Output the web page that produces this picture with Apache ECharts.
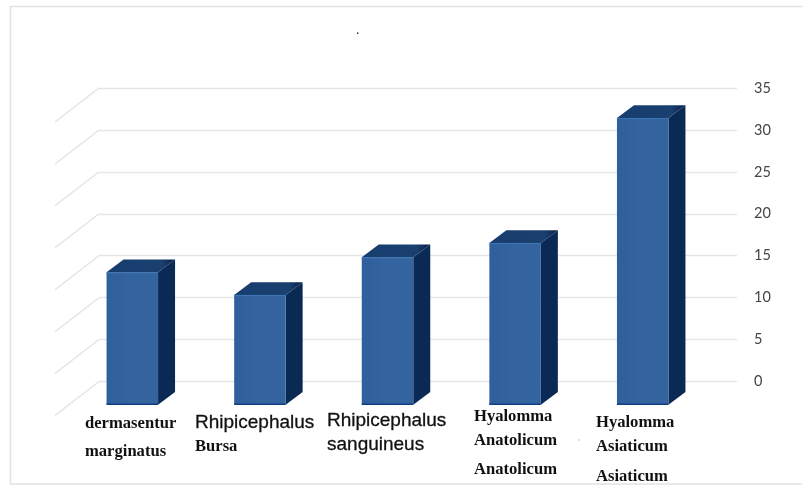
<!DOCTYPE html>
<html>
<head>
<meta charset="utf-8">
<style>html,body{margin:0;padding:0;background:#fff}#chart{width:802px;height:486px}</style>
<script src="https://cdn.jsdelivr.net/npm/echarts@6/dist/echarts.min.js"></script>
</head>
<body>
<div id="chart"></div>
<script>
// Tick species share, drawn as pseudo-3D columns standing on a receding floor.
const categories = [
  'dermasentur marginatus',
  'Rhipicephalus Bursa',
  'Rhipicephalus sanguineus',
  'Hyalomma Anatolicum Anatolicum',
  'Hyalomma Asiaticum Asiaticum'
];
const values = [15.8, 13.1, 17.6, 19.3, 34.2];
const tickValues = [0, 5, 10, 15, 20, 25, 30, 35];

// Category label lines, each with its own face.
const SERIF = 'bold 16.6px "Liberation Serif"';
const SANS = '19px "Liberation Sans"';
const labelLines = [
  [['dermasentur', SERIF, 424], ['marginatus', SERIF, 452]],
  [['Rhipicephalus', SANS, 423], ['Bursa', SERIF, 447]],
  [['Rhipicephalus', SANS, 421], ['sanguineus', SANS, 445]],
  [['Hyalomma', SERIF, 417], ['Anatolicum', SERIF, 441], ['Anatolicum', SERIF, 470]],
  [['Hyalomma', SERIF, 423], ['Asiaticum', SERIF, 447], ['Asiaticum', SERIF, 477]]
];
const labelLeft = [85, 195, 327, 474, 596];

// Projection constants for the fake depth.
const FLOOR_DX = -44, FLOOR_DY = 34;      // back wall to front edge of the floor
const BAR_DX = -30.5, BAR_DY = 23.3;      // back wall to the front face of a column
const BAR_W = 51.5, DEPTH_X = 17, DEPTH_Y = -12.7;

const poly = (points, fill) => ({ type: 'polygon', shape: { points }, style: { fill } });

function renderColumn(params, api) {
  const i = api.value(0);
  const top = api.coord([i, api.value(1)]);
  const base = api.coord([i, 0]);
  const l = top[0] + BAR_DX - BAR_W / 2, r = l + BAR_W;
  const t = top[1] + BAR_DY, b = base[1] + BAR_DY;
  const children = [
    poly([[r, t], [r + DEPTH_X, t + DEPTH_Y], [r + DEPTH_X, b + DEPTH_Y], [r, b]], '#0a2a55'),
    poly([[l, t], [l + DEPTH_X, t + DEPTH_Y], [r + DEPTH_X, t + DEPTH_Y], [r, t]],
      new echarts.graphic.LinearGradient(0, 0, 1, 0, [
        { offset: 0, color: '#173d70' }, { offset: 0.8, color: '#1a406f' }, { offset: 1, color: '#071f45' }
      ])),
    {
      type: 'rect', shape: { x: l, y: t, width: BAR_W, height: b - t },
      style: {
        fill: new echarts.graphic.LinearGradient(0, 0, 1, 0, [
          { offset: 0, color: '#2f5f9c' }, { offset: 0.5, color: '#34659f' }, { offset: 1, color: '#33649f' }
        ])
      }
    },
    {
      type: 'line', shape: { x1: l, y1: t + 0.5, x2: r, y2: t + 0.5 },
      style: { stroke: '#3f75b5', lineWidth: 1 }
    },
    {
      type: 'line', shape: { x1: l, y1: b - 0.5, x2: r, y2: b - 0.5 },
      style: { stroke: '#123f84', lineWidth: 1.5 }
    }
  ];
  labelLines[i].forEach(([text, font, y]) => {
    children.push({
      type: 'text',
      style: {
        text, x: labelLeft[i], y, font, fill: '#111111', align: 'left', verticalAlign: 'middle',
        stroke: '#111111', lineWidth: font === SANS ? 0.3 : 0
      }
    });
  });
  return { type: 'group', children };
}

// Slanted floor-side gridlines running forward from the wall.
function renderSideLine(params, api) {
  const p = api.coord([0, api.value(0)]);
  const x0 = p[0] - api.size([1, 0])[0] / 2;
  return {
    type: 'line',
    shape: { x1: x0, y1: p[1], x2: x0 + FLOOR_DX, y2: p[1] + FLOOR_DY },
    style: { stroke: '#e3e3e3', lineWidth: 1.3 }
  };
}

const chart = echarts.init(document.getElementById('chart'), null, { renderer: 'canvas' });
chart.setOption({
  animation: false,
  backgroundColor: '#ffffff',
  title: {
    text: '.', left: 351, top: 18,
    textStyle: { fontSize: 14, fontWeight: 'normal', color: '#333', fontFamily: 'Liberation Serif' }
  },
  grid: { left: 99, right: 65, top: 88, bottom: 104.5 },
  xAxis: {
    type: 'category',
    data: categories,
    axisLine: { show: false },
    axisTick: { show: false },
    axisLabel: { show: false }
  },
  yAxis: {
    type: 'value',
    position: 'right',
    min: 0,
    max: 35,
    interval: 5,
    axisLine: { show: false },
    axisTick: { show: false },
    axisLabel: { margin: 17, color: '#454545', fontSize: 14.5, fontFamily: 'Lato' },
    splitLine: { show: true, lineStyle: { color: '#e6e6e6', width: 1.3 } }
  },
  series: [
    {
      type: 'custom',
      renderItem: renderSideLine,
      data: tickValues.map(v => [v]),
      encode: { y: 0 },
      silent: true,
      clip: false,
      z: 1
    },
    {
      type: 'custom',
      renderItem: renderColumn,
      data: values.map((v, i) => [i, v]),
      encode: { x: 0, y: 1 },
      clip: false,
      z: 2
    }
  ],
  graphic: [
    // Outer frame: top, left and bottom edges only.
    { type: 'polyline', shape: { points: [[802, 6.5], [10.5, 6.5], [10.5, 484], [802, 484]] },
      style: { stroke: '#e2e2e2', lineWidth: 1.5, fill: null }, silent: true },
    { type: 'circle', shape: { cx: 579, cy: 440, r: 0.8 }, style: { fill: '#bbbbbb' }, silent: true }
  ]
});
</script>
</body>
</html>
